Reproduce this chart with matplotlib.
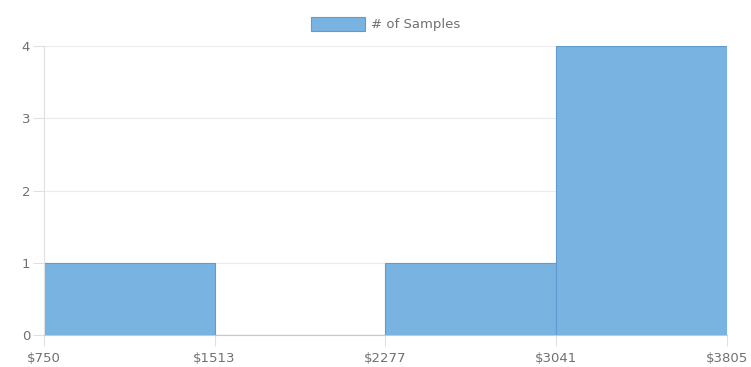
import matplotlib
matplotlib.use("Agg")
import matplotlib.pyplot as plt
import numpy as np

plt.rcParams["font.family"] = ["DejaVu Sans"]

# Histogram data
bin_edges = [750, 1513, 2277, 3041, 3805]
tick_labels = ["$750", "$1513", "$2277", "$3041", "$3805"]
sample_counts = [1, 0, 1, 4]
y_ticks = [0, 1, 2, 3, 4]

fig = plt.figure(figsize=(7.51, 3.67), dpi=100)
ax = fig.add_axes([44 / 751, 1 - 335 / 367, (727 - 44) / 751, (335 - 46) / 367])

lefts = np.array(bin_edges[:-1])
widths = np.diff(bin_edges)
ax.bar(lefts, sample_counts, width=widths, align="edge",
       color="#78b3e1", edgecolor="#5f9bd0", linewidth=0.8,
       label="# of Samples", zorder=2)

ax.set_xlim(bin_edges[0], bin_edges[-1])
ax.set_ylim(0, 4)
ax.set_xticks(bin_edges)
ax.set_xticklabels(tick_labels)
ax.set_yticks(y_ticks)

# horizontal grid only
ax.grid(axis="y", color="#ebebeb", linewidth=0.8, zorder=0)
for side in ["top", "right"]:
    ax.spines[side].set_visible(False)
ax.spines["left"].set_color("#e0e0e0")
ax.spines["bottom"].set_color("#c8c8c8")
ax.tick_params(axis="both", colors="#e0e0e0", labelcolor="#707070",
               labelsize=9.5, length=8, width=0.8)
ax.tick_params(axis="x", pad=4)
ax.tick_params(axis="y", pad=2)

leg = ax.legend(loc="lower center", bbox_to_anchor=(0.5, 1.01), frameon=False,
                fontsize=9.5, handlelength=4.15, handleheight=1.25,
                handletextpad=0.45, labelcolor="#707070")

fig.savefig("out.png", dpi=100)
